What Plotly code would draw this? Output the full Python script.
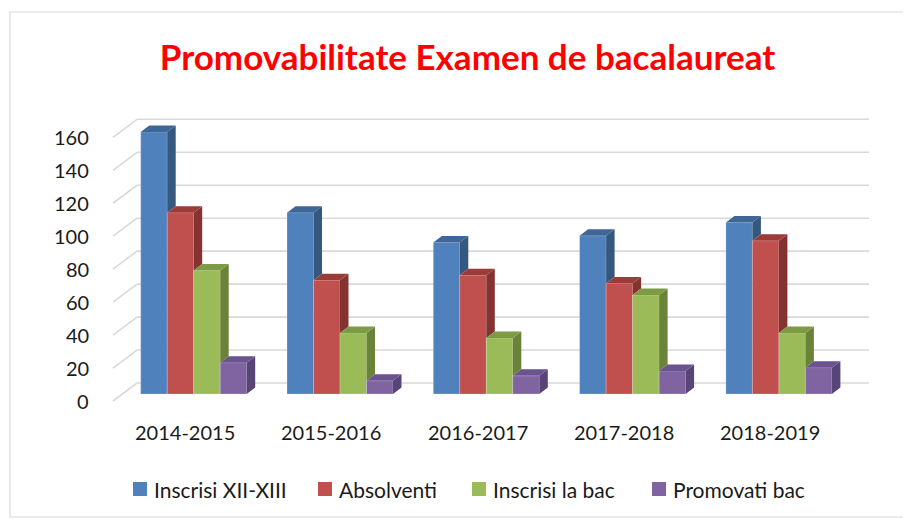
import plotly.graph_objects as go

# ---- data ----
categories = ["2014-2015", "2015-2016", "2016-2017", "2017-2018", "2018-2019"]
series_names = ["Inscrisi XII-XIII", "Absolventi", "Inscrisi la bac", "Promovati bac"]
inscrisi_xii_xiii = [159, 110, 92, 96, 104]
absolventi = [110, 69, 72, 67, 93]
inscrisi_bac = [75, 37, 34, 60, 37]
promovati_bac = [19, 8, 11, 14, 16]
y_ticks = [0, 20, 40, 60, 80, 100, 120, 140, 160]
title_text = "Promovabilitate Examen de bacalaureat"

series_values = [inscrisi_xii_xiii, absolventi, inscrisi_bac, promovati_bac]

# ---- styles ----
front_colors = ["#4F81BD", "#C0504D", "#9BBB59", "#8064A2"]
side_colors = ["#35587F", "#843331", "#6A8339", "#584578"]
top_colors = ["#3E6797", "#9C3C3A", "#7D9A44", "#6A538E"]
FONT = "Lato, Carlito, Calibri, sans-serif"
TEXT_COLOR = "#1a1a1a"
GRID = "#D9D9D9"

W, H = 911, 519
OFF = 8               # page body margin
PX_X = 146.3          # px per category unit
X0_PX = 193.7         # screen px of first group centre
PX_Y = 1.648          # px per value unit
Y0_PX = 394           # screen px of value 0 (bar base)


def ux(px):
    return (px - X0_PX) / PX_X


def vy(py):
    return (Y0_PX - py) / PX_Y


X_RANGE = [ux(OFF), ux(OFF + W)]
Y_RANGE = [vy(OFF + H), vy(OFF)]

n = len(series_values)
bar_w = 26.5 / PX_X
dx = 8.5 / PX_X       # depth offset (x)
dy = 6.5 / PX_Y       # depth offset (y)
back_off = 11 / PX_Y  # back wall shift up
front_off = 7 / PX_Y  # front floor shift down
x_front = ux(113)
x_back_l = ux(137)
x_back_r = ux(869)

fig = go.Figure()
xs = list(range(len(categories)))

# front faces as bars
for k, (name, vals) in enumerate(zip(series_names, series_values)):
    off = -n * bar_w / 2 + k * bar_w
    fig.add_trace(go.Bar(
        x=xs, y=vals, name=name, width=bar_w, offset=off,
        marker=dict(color=front_colors[k], line=dict(color="rgba(255,255,255,0.35)", width=0.6)),
        showlegend=False, hoverinfo="skip",
    ))

# side and top faces computed from values
for k, vals in enumerate(series_values):
    off = -n * bar_w / 2 + k * bar_w
    sx, sy, tx, ty = [], [], [], []
    for i, v in enumerate(vals):
        xl = xs[i] + off
        xr = xl + bar_w
        nxt = series_values[k + 1][i] if k + 1 < n else 0
        base = min(v, nxt)
        if base < v:
            sx += [xr, xr + dx, xr + dx, xr, xr, None]
            sy += [base, base + dy, v + dy, v, base, None]
        tx += [xl, xr, xr + dx, xl + dx, xl, None]
        ty += [v, v, v + dy, v + dy, v, None]
    fig.add_trace(go.Scatter(x=sx, y=sy, mode="lines", fill="toself",
                             fillcolor=side_colors[k], line=dict(width=0),
                             showlegend=False, hoverinfo="skip"))
    fig.add_trace(go.Scatter(x=tx, y=ty, mode="lines", fill="toself",
                             fillcolor=top_colors[k], line=dict(width=0),
                             showlegend=False, hoverinfo="skip"))

annotations = []
# y tick labels at the front of the left wall
for t in y_ticks:
    annotations.append(dict(x=ux(91), y=t - front_off, xref="x", yref="y",
                            text=str(t), showarrow=False, xanchor="right", yanchor="middle",
                            font=dict(family=FONT, size=20, color=TEXT_COLOR)))
# category labels
for x, c in zip(xs, categories):
    annotations.append(dict(x=x - 0.059, y=vy(432), xref="x", yref="y",
                            text=c, showarrow=False, xanchor="center", yanchor="middle",
                            font=dict(family=FONT, size=20, color=TEXT_COLOR)))

# legend (manual, to match spacing)
legend_sym_px = [140, 325, 479, 659]
fig.add_trace(go.Scatter(
    x=[ux(p) for p in legend_sym_px], y=[vy(489)] * n, mode="markers",
    marker=dict(symbol="square", size=14, color=front_colors, line=dict(width=0)),
    showlegend=False, hoverinfo="skip",
))
for p, name in zip(legend_sym_px, series_names):
    annotations.append(dict(x=ux(p + 12), y=vy(489), xref="x", yref="y",
                            text=name, showarrow=False, xanchor="left", yanchor="middle",
                            font=dict(family=FONT, size=21, color=TEXT_COLOR)))

# gridlines on back wall + left wall diagonals
shapes = []
for t in y_ticks:
    shapes.append(dict(type="line", xref="x", yref="y", layer="below",
                       x0=x_back_l, x1=x_back_r, y0=t + back_off, y1=t + back_off,
                       line=dict(color=GRID, width=1.6)))
    shapes.append(dict(type="line", xref="x", yref="y", layer="below",
                       x0=x_front, x1=x_back_l, y0=t - front_off, y1=t + back_off,
                       line=dict(color=GRID, width=1.6)))
# chart frame
shapes.append(dict(type="rect", xref="x", yref="y", layer="below",
                   x0=ux(10), x1=ux(905), y0=vy(517), y1=vy(12),
                   line=dict(color=GRID, width=1.2)))

fig.update_layout(
    width=W, height=H,
    margin=dict(l=0, r=0, t=0, b=0),
    paper_bgcolor="white", plot_bgcolor="white",
    barmode="overlay",
    title=dict(text="<b>" + title_text + "</b>", x=459.5 / W, xanchor="center",
               y=1 - (58 - OFF) / H, yanchor="middle", yref="container",
               font=dict(family=FONT, size=35, color="#FF0000")),
    xaxis=dict(range=X_RANGE, visible=False, fixedrange=True),
    yaxis=dict(range=Y_RANGE, visible=False, fixedrange=True),
    shapes=shapes,
    annotations=annotations,
    showlegend=False,
)

fig.write_html("out.html")
